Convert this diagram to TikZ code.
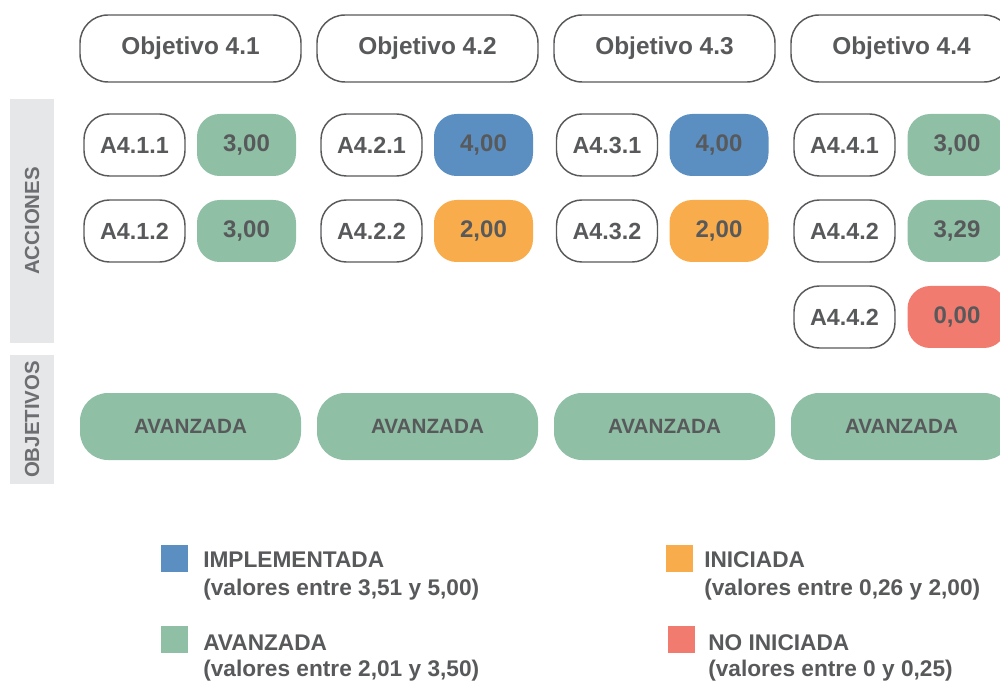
\documentclass[tikz,border=0pt]{standalone}
\usepackage{fontspec}
\setmainfont{Liberation Sans}
\definecolor{txt}{HTML}{58595B}
\definecolor{bord}{HTML}{58595B}
\definecolor{side}{HTML}{E6E7E8}
\definecolor{sidetxt}{HTML}{6D6E71}
\definecolor{cblue}{HTML}{5B8FC2}
\definecolor{cgreen}{HTML}{8FBFA5}
\definecolor{corange}{HTML}{F9AC4B}
\definecolor{cred}{HTML}{F27B6F}
\tikzset{
  objbox/.style={draw=bord, line width=1.1pt, fill=white, rounded corners=21pt,
    minimum width=165.75pt, minimum height=50.25pt, inner sep=0pt,
    font=\fontsize{18.3}{20}\selectfont\bfseries, text=txt},
  actbox/.style={draw=bord, line width=1.1pt, fill=white, rounded corners=19pt,
    minimum width=75.75pt, minimum height=46.5pt, inner sep=0pt,
    font=\fontsize{17.5}{19}\selectfont\bfseries, text=txt},
  valbox/.style={fill=#1, rounded corners=17pt,
    minimum width=74.25pt, minimum height=46.5pt, inner sep=0pt,
    font=\fontsize{18}{20}\selectfont\bfseries, text=txt},
  statbox/.style={fill=cgreen, rounded corners=21pt,
    minimum width=165.75pt, minimum height=50.25pt, inner sep=0pt,
    font=\fontsize{15.5}{17}\selectfont\bfseries, text=txt},
  sidebar/.style={fill=side, inner sep=0pt, minimum width=33pt},
  sidelabel/.style={rotate=90, font=\fontsize{15.3}{17}\selectfont\bfseries, text=sidetxt},
  legsq/.style={fill=#1, minimum width=20.25pt, minimum height=20.25pt, inner sep=0pt},
  legtxt/.style={anchor=base west, inner sep=0pt, font=\fontsize{17}{19}\selectfont\bfseries, text=txt},
}
\begin{document}
\begin{tikzpicture}[x=0.75pt, y=-0.75pt]
\useasboundingbox (0,0) rectangle (1000,684);
\clip (0,0) rectangle (1000,684);
% side bars
\node[sidebar, minimum height=183pt] (sbA) at (32,221) {};
\node[sidelabel] (lA) at (32,221) {ACCIONES};
\node[sidebar, minimum height=96.75pt] (sbO) at (32,419.5) {};
\node[sidelabel] (lO) at (32,419.5) {OBJETIVOS};
% objectives header
\node[objbox] (o1) at (190.5,48.5) {Objetivo 4.1};
\node[objbox] (o2) at (427.5,48.5) {Objetivo 4.2};
\node[objbox] (o3) at (664.5,48.5) {Objetivo 4.3};
\node[objbox] (o4) at (901.5,48.5) {Objetivo 4.4};
% actions col 1
\node[actbox] (a11) at (134.5,145) {A4.1.1};
\node[valbox=cgreen] (v11) at (246.5,145) {3,00};
\node[actbox] (a12) at (134.5,231) {A4.1.2};
\node[valbox=cgreen] (v12) at (246.5,231) {3,00};
% col 2
\node[actbox] (a21) at (371.5,145) {A4.2.1};
\node[valbox=cblue] (v21) at (483.5,145) {4,00};
\node[actbox] (a22) at (371.5,231) {A4.2.2};
\node[valbox=corange] (v22) at (483.5,231) {2,00};
% col 3
\node[actbox] (a31) at (607,145) {A4.3.1};
\node[valbox=cblue] (v31) at (719,145) {4,00};
\node[actbox] (a32) at (607,231) {A4.3.2};
\node[valbox=corange] (v32) at (719,231) {2,00};
% col 4
\node[actbox] (a41) at (844.5,145) {A4.4.1};
\node[valbox=cgreen] (v41) at (957,145) {3,00};
\node[actbox] (a42) at (844.5,231) {A4.4.2};
\node[valbox=cgreen] (v42) at (957,231) {3,29};
\node[actbox] (a43) at (844.5,317) {A4.4.2};
\node[valbox=cred] (v43) at (957,317) {0,00};
% status
\node[statbox] (s1) at (190.5,426.5) {AVANZADA};
\node[statbox] (s2) at (427.5,426.5) {AVANZADA};
\node[statbox] (s3) at (664.5,426.5) {AVANZADA};
\node[statbox] (s4) at (901.5,426.5) {AVANZADA};
% legend
\node[legsq=cblue] (q1) at (174.5,558.5) {};
\node[legtxt] (t1a) at (203,567) {IMPLEMENTADA};
\node[legtxt] (t1b) at (203,595) {(valores entre 3,51 y 5,00)};
\node[legsq=cgreen] (q2) at (174.5,639) {};
\node[legtxt] (t2a) at (203,650) {AVANZADA};
\node[legtxt] (t2b) at (203,676) {(valores entre 2,01 y 3,50)};
\node[legsq=corange] (q3) at (679,558.5) {};
\node[legtxt] (t3a) at (704,567) {INICIADA};
\node[legtxt] (t3b) at (704,595) {(valores entre 0,26 y 2,00)};
\node[legsq=cred] (q4) at (681.5,639.5) {};
\node[legtxt] (t4a) at (708,650) {NO INICIADA};
\node[legtxt] (t4b) at (708,676) {(valores entre 0 y 0,25)};
\end{tikzpicture}
\end{document}
